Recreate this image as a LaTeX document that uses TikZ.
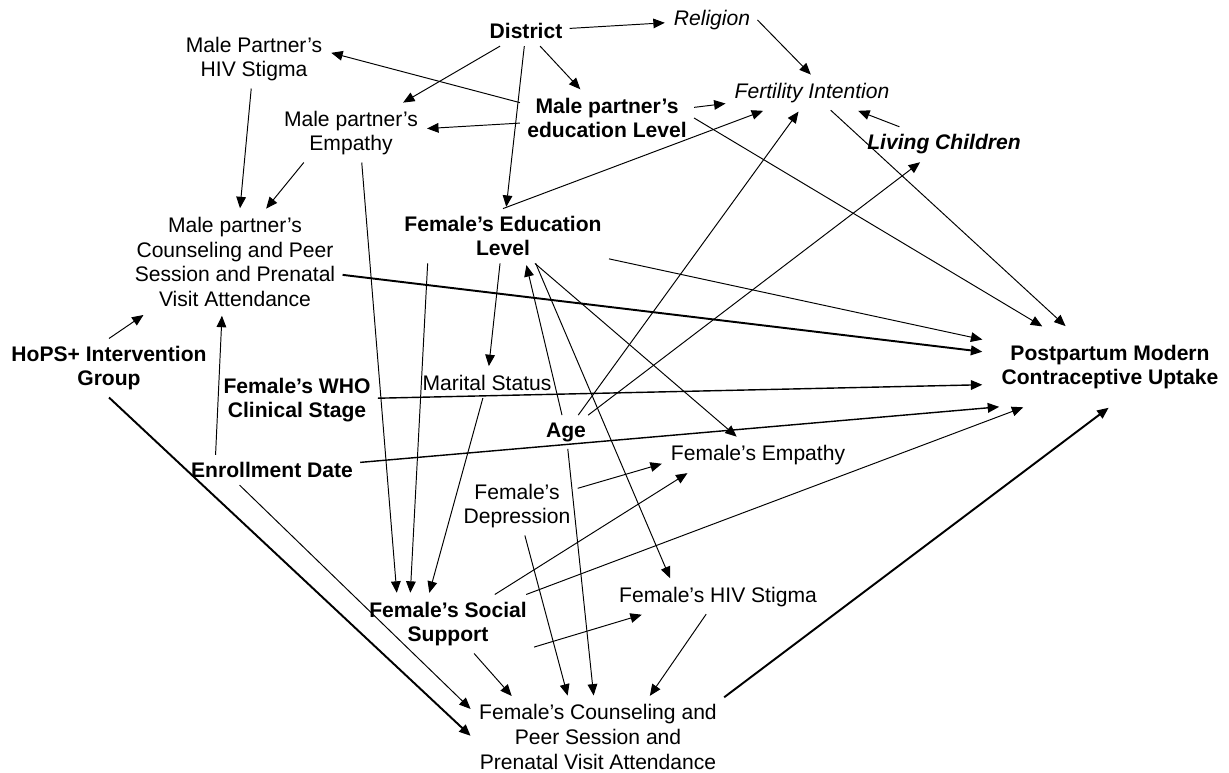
\documentclass[tikz,border=0pt]{standalone}
\usepackage{fontspec}
\setmainfont{Liberation Sans}
\usetikzlibrary{arrows.meta}
\tikzset{x=0.02cm, y=-0.02cm, % One unit per pixel of the sketch, y grows downwards
        var/.style={ % Sets the properties for each variable
            align=center,
            inner sep=4pt,
            font=\fontsize{12}{14}\selectfont},
        bvar/.style={var, font=\fontsize{12}{14}\selectfont\bfseries},
        ivar/.style={var, font=\fontsize{12}{14}\selectfont\itshape},
        bivar/.style={var, font=\fontsize{12}{14}\selectfont\bfseries\itshape},
        every edge/.style={ % Sets the properties for each path
            draw,
            -{Triangle[length=6.5pt,width=5.5pt]}, % Filled arrowheads
            line width=0.55pt,
            shorten >=1pt},
        medium/.style={line width=0.8pt},
        heavy/.style={line width=1.1pt}
        }

\begin{document}
\begin{tikzpicture}
    \useasboundingbox (0,0) rectangle (1229,773);

    \node[bvar]  (dist)  at (526,31)  {District};
    \node[ivar]  (relig) at (712,20)  {Religion};
    \node[var]   (mhiv)  at (254,59)  {Male Partner’s\\HIV Stigma};
    \node[bvar]  (medu)  at (607,118) {Male partner’s\\education Level};
    \node[var]   (memp)  at (351,133) {Male partner’s\\Empathy};
    \node[ivar]  (fert)  at (812,93)  {Fertility Intention};
    \node[bivar] (liv)   at (944,144) {Living Children};
    \node[var]   (mcoun) at (235,262) {Male partner’s\\Counseling and Peer\\Session and Prenatal\\Visit Attendance};
    \node[bvar]  (fedu)  at (503,236) {Female’s Education\\Level};
    \node[bvar]  (hops)  at (109,368) {HoPS+ Intervention\\Group};
    \node[bvar]  (who)   at (297,400) {Female’s WHO\\Clinical Stage};
    \node[var]   (mar)   at (487,383) {Marital Status};
    \node[bvar]  (age)   at (566,432) {Age};
    \node[bvar]  (enr)   at (272,470) {Enrollment Date};
    \node[var]   (femp)  at (758,455) {Female’s Empathy};
    \node[var]   (dep)   at (517,506) {Female’s\\Depression};
    \node[bvar]  (soc)   at (448,624) {Female’s Social\\Support};
    \node[var]   (fhiv)  at (718,597) {Female’s HIV Stigma};
    \node[var]   (fcoun) at (598,737) {Female’s Counseling and\\Peer Session and\\Prenatal Visit Attendance};
    \node[bvar,outer sep=6pt] (post) at (1110,367) {Postpartum Modern\\Contraceptive Uptake};

    \draw (dist) edge (relig);
    \draw (dist) edge (memp);
    \draw (dist) edge (medu);
    \draw (dist) edge (fedu);
    \draw (relig.east) edge (fert.north);
    \draw (medu.170) edge (mhiv.5);
    \draw (medu) edge (memp);
    \draw (medu) edge (fert);
    \draw (medu.east) edge (post);
    \draw (liv) edge (fert);
    \draw (fert) edge (post);

    \draw (mhiv) edge (mcoun);
    \draw (memp.-148) edge (mcoun.60);
    \draw (memp.-70) edge (soc.150);
    \draw (hops.north) edge (mcoun.-150);
    \draw (hops.south) edge[heavy] (fcoun.west);
    \draw (enr.165) edge (mcoun.-104);
    \draw (enr.-155) edge (fcoun.168);
    \draw (enr) edge[medium] (post.-160);
    \draw (mcoun) edge[heavy] (post);
    \draw (who) edge[medium] (post.-172);

    \draw (fedu.north) edge (fert.-160);
    \draw (fedu) edge (post);
    \draw (fedu) edge (mar);
    \draw (fedu) edge (femp);
    \draw (fedu.-40) edge (fhiv.160);
    \draw (fedu.-160) edge (soc.142);
    \draw (mar) edge (soc.123);

    \draw (age) edge (fedu.-50);
    \draw (age) edge (fert);
    \draw (age) edge (liv);
    \draw (age) edge (fcoun);

    \draw (dep) edge (femp.-175);
    \draw (dep) edge (fcoun.127);
    \draw (soc) edge (femp.-166);
    \draw (soc) edge (post.-155);
    \draw (soc.-15) edge (fhiv.-167);
    \draw (soc) edge (fcoun.155);
    \draw (fhiv) edge (fcoun.38);
    \draw (fcoun.north east) edge[heavy] (post.south);
\end{tikzpicture}
\end{document}
